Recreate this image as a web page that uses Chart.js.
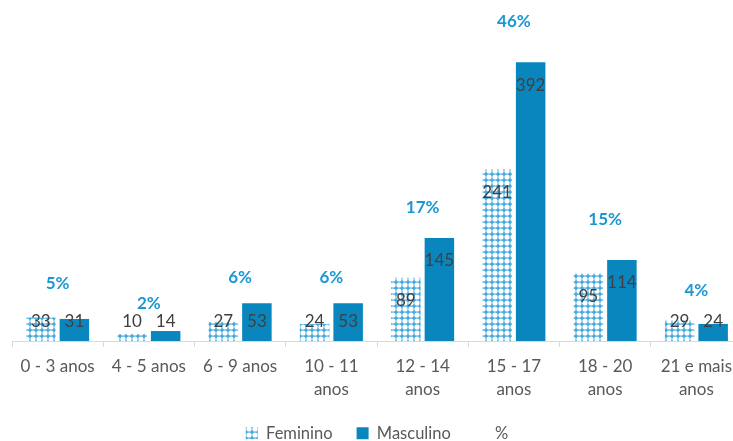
<!DOCTYPE html>
<html lang="pt">
<head>
<meta charset="utf-8">
<title>Distribuição por faixa etária</title>
<script src="https://cdn.jsdelivr.net/npm/chart.js@4"></script>
<style>
    html, body { margin: 0; padding: 0; background: #ffffff; overflow: hidden; }
    #wrap { position: relative; width: 745px; height: 441px; }
</style>
</head>
<body>
<div id="wrap"><canvas id="chartAges"></canvas></div>
<script>
const ageGroups = [
    '0 - 3 anos', '4 - 5 anos', '6 - 9 anos', ['10 - 11', 'anos'],
    ['12 - 14', 'anos'], ['15 - 17', 'anos'], ['18 - 20', 'anos'], ['21 e mais', 'anos']
];
const femininoValues = [33, 10, 27, 24, 89, 241, 95, 29];
const masculinoValues = [31, 14, 53, 53, 145, 392, 114, 24];
const percentValues = [5, 2, 6, 6, 17, 46, 15, 4];

const FONT_FAMILY = "Lato, 'Open Sans', sans-serif";
const MALE_COLOR = '#0a86be';
const PERCENT_COLOR = '#1b98d2';

// Small repeating tile used for the Feminino bars: white dots on blue.
function buildPattern() {
    const tile = document.createElement('canvas');
    tile.width = 6;
    tile.height = 6;
    const c = tile.getContext('2d');
    c.fillStyle = '#46aadd';
    c.fillRect(0, 0, 6, 6);
    c.fillStyle = '#ffffff';
    c.beginPath();
    c.arc(3, 3, 2.6, 0, Math.PI * 2);
    c.fill();
    return c.createPattern(tile, 'repeat');
}

// Value labels: counts near the top of each bar, percentages above each group.
const valueLabels = {
    id: 'valueLabels',
    afterDatasetsDraw(chart) {
        const ctx = chart.ctx;
        const baseline = chart.scales.y.getPixelForValue(0);
        ctx.save();
        ctx.textAlign = 'center';
        ctx.textBaseline = 'middle';
        chart.data.datasets.forEach((ds, di) => {
            const meta = chart.getDatasetMeta(di);
            meta.data.forEach((el, i) => {
                if (ds.type === 'line') {
                    ctx.font = 'bold 17px ' + FONT_FAMILY;
                    ctx.fillStyle = PERCENT_COLOR;
                    ctx.fillText(ds.data[i] + '%', el.x, el.y - 25);
                } else {
                    ctx.font = '17px ' + FONT_FAMILY;
                    ctx.fillStyle = '#404040';
                    const y = Math.min(el.y + 23, baseline - 19);
                    ctx.fillText(String(ds.data[i]), el.x, y);
                }
            });
        });
        ctx.restore();
    }
};

const ctx = document.getElementById('chartAges');
new Chart(ctx, {
    data: {
        labels: ageGroups,
        datasets: [{
            type: 'bar',
            label: 'Feminino',
            data: femininoValues,
            backgroundColor: buildPattern(),
            borderWidth: 0,
            categoryPercentage: 0.735,
            barPercentage: 0.88
        }, {
            type: 'bar',
            label: 'Masculino',
            data: masculinoValues,
            backgroundColor: MALE_COLOR,
            borderWidth: 0,
            categoryPercentage: 0.735,
            barPercentage: 0.88
        }, {
            type: 'line',
            label: '%',
            data: percentValues,
            yAxisID: 'y1',
            showLine: false,
            pointRadius: 0,
            borderColor: 'rgba(0,0,0,0)',
            backgroundColor: 'rgba(0,0,0,0)'
        }]
    },
    options: {
        responsive: true,
        maintainAspectRatio: false,
        animation: false,
        layout: { padding: { left: 12, right: 3, top: 21, bottom: 0 } },
        plugins: {
            legend: {
                position: 'bottom',
                maxHeight: 40,
                labels: {
                    boxWidth: 12,
                    boxHeight: 12,
                    padding: 24,
                    color: '#595959',
                    font: { family: FONT_FAMILY, size: 16.5 }
                }
            },
            tooltip: { enabled: false }
        },
        scales: {
            x: {
                grid: {
                    offset: true,
                    drawOnChartArea: false,
                    tickLength: 6,
                    color: '#d9d9d9'
                },
                border: { color: '#d9d9d9', width: 1 },
                ticks: {
                    color: '#595959',
                    padding: 8,
                    maxRotation: 0,
                    autoSkip: false,
                    font: { family: FONT_FAMILY, size: 17, lineHeight: 1.35 }
                },
                afterFit(scale) {
                    scale.height = 60;
                }
            },
            y: { display: false, min: 0, max: 450 },
            y1: { display: false, min: 0, max: 50, position: 'right' }
        }
    },
    plugins: [valueLabels]
});
</script>
</body>
</html>
